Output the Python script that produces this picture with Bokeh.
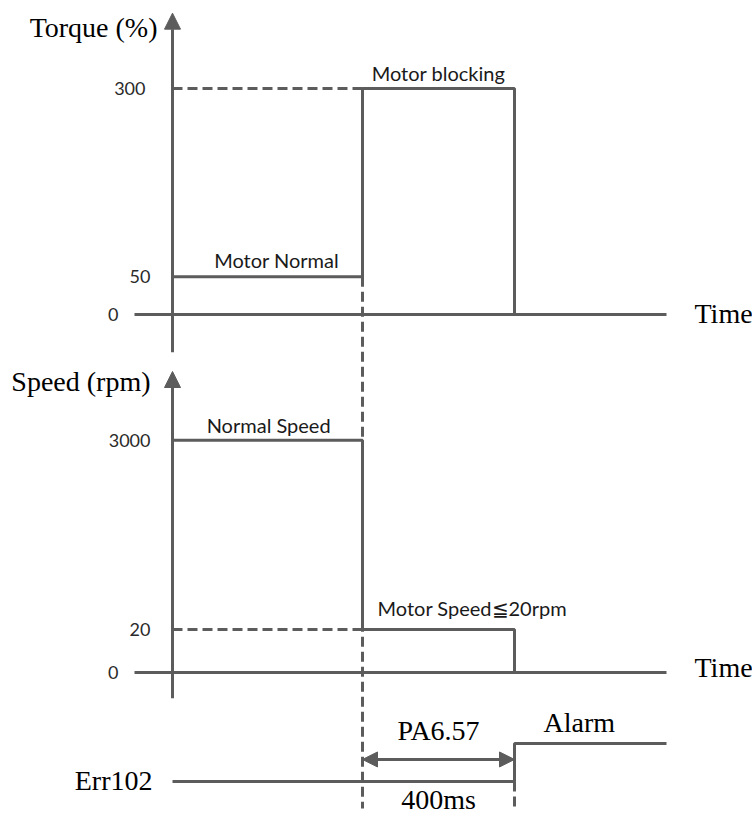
from bokeh.plotting import figure
from bokeh.models import Range1d, Arrow, NormalHead
from bokeh.core.properties import value
from bokeh.embed import file_html
from bokeh.resources import INLINE

# ---------------- data ----------------
time_ms = [0, 500, 500, 900, 900]          # motor blocks at 500 ms, alarm 400 ms later
torque_pct = [50, 50, 300, 300, 0]
speed_rpm = [3000, 3000, 20, 20, 0]
alarm_t = [0, 900, 900, 1300]
alarm_state = [0, 0, 1, 1]                  # 0 = Err102 low, 1 = Alarm
torque_ticks = [300, 50]
torque_tick_labels = ["300", "50"]
speed_ticks = [3000, 20]
speed_tick_labels = ["3000", "20"]
block_t = 500
alarm_at = 900
time_axis = [-100, 1300]
torque_axis = [-50, 400]
speed_axis = [-0.6, 7.0]     # display units (broken axis)

W, H = 752, 814
KX = 0.38            # px per ms
X0 = 172             # px of t=0 from left

def speed_disp(v):
    # schematic broken axis: linear up to 20 rpm, compressed above
    return v / 20.0 if v <= 20 else 1 + (v - 20) / 2980.0 * 4.4

def rng(origin_px, ppu):
    return Range1d(-origin_px / ppu, (H - origin_px) / ppu)

TQ = (500, 226 / 300.0)
SP = (142, 43.0)
AL = (33, 38.0)

def conv(v, a, b):
    # convert value from range a to range b (same frame)
    px = a[0] + v * a[1]
    return (px - b[0]) / b[1]

p = figure(width=W, height=H, output_backend="svg", toolbar_location=None,
           x_range=Range1d(-X0 / KX, (W - X0) / KX), y_range=rng(*AL),
           min_border=0, outline_line_color=None)
p.extra_y_ranges = {"tq": rng(*TQ), "sp": rng(*SP)}
p.axis.visible = False
p.grid.visible = False
p.background_fill_color = "white"

LC = "#5c5c5c"
LW = 3
DASH = "10 5"
SANS = value("Lato")
SERIF = value("Liberation Serif")
TICK_SIZE = "18px"
SANS_SIZE = "20px"
SERIF_SIZE = "28px"
TXT = "#1a1a1a"
TICK_C = "#2a2a2a"

# ---------- torque panel ----------
p.add_layout(Arrow(end=NormalHead(size=16, fill_color=LC, line_color=LC),
                   x_start=0, y_start=torque_axis[0], x_end=0, y_end=torque_axis[1],
                   line_color=LC, line_width=LW, y_range_name="tq"))
p.line(time_axis, [0, 0], y_range_name="tq", line_color=LC, line_width=LW)
p.line([0, block_t], [torque_pct[2], torque_pct[2]], y_range_name="tq",
       line_color=LC, line_width=LW, line_dash=DASH)
p.line(time_ms, torque_pct, y_range_name="tq", line_color=LC, line_width=LW)
p.text([0] * 2, torque_ticks, text=torque_tick_labels, y_range_name="tq",
       x_offset=[-27, -22], text_align="right", text_baseline="middle",
       text_font=SANS, text_font_size=TICK_SIZE, text_color=TICK_C)
p.text([time_axis[0]], [0], text=["0"], y_range_name="tq", x_offset=-16,
       text_align="right", text_baseline="middle",
       text_font=SANS, text_font_size=TICK_SIZE, text_color=TICK_C)
p.text([0], [torque_axis[1]], text=["Torque (%)"], y_range_name="tq",
       x_offset=-15, y_offset=14, text_align="right", text_baseline="middle",
       text_font=SERIF, text_font_size=SERIF_SIZE, text_color="black")
p.text([time_axis[1]], [0], text=["Time"], y_range_name="tq",
       x_offset=28, y_offset=-1, text_align="left", text_baseline="middle",
       text_font=SERIF, text_font_size=SERIF_SIZE, text_color="black")
p.text([274], [torque_pct[0]], text=["Motor Normal"], y_range_name="tq",
       y_offset=-17, text_align="center", text_baseline="middle",
       text_font=SANS, text_font_size=SANS_SIZE, text_color=TXT)
p.text([(block_t + alarm_at) / 2], [torque_pct[2]], text=["Motor blocking"], y_range_name="tq",
       y_offset=-16, text_align="center", text_baseline="middle",
       text_font=SANS, text_font_size=SANS_SIZE, text_color=TXT)

# ---------- speed panel ----------
sp_disp = [speed_disp(v) for v in speed_rpm]
p.add_layout(Arrow(end=NormalHead(size=16, fill_color=LC, line_color=LC),
                   x_start=0, y_start=speed_axis[0], x_end=0, y_end=speed_axis[1],
                   line_color=LC, line_width=LW, y_range_name="sp"))
p.line(time_axis, [0, 0], y_range_name="sp", line_color=LC, line_width=LW)
p.line([0, block_t], [speed_disp(20), speed_disp(20)], y_range_name="sp",
       line_color=LC, line_width=LW, line_dash=DASH)
p.line(time_ms, sp_disp, y_range_name="sp", line_color=LC, line_width=LW)
p.text([0] * 2, [speed_disp(v) for v in speed_ticks], text=speed_tick_labels, y_range_name="sp",
       x_offset=-22, text_align="right", text_baseline="middle",
       text_font=SANS, text_font_size=TICK_SIZE, text_color=TICK_C)
p.text([time_axis[0]], [0], text=["0"], y_range_name="sp", x_offset=-16,
       text_align="right", text_baseline="middle",
       text_font=SANS, text_font_size=TICK_SIZE, text_color=TICK_C)
p.text([0], [speed_axis[1]], text=["Speed (rpm)"], y_range_name="sp",
       x_offset=-22, y_offset=10, text_align="right", text_baseline="middle",
       text_font=SERIF, text_font_size=SERIF_SIZE, text_color="black")
p.text([time_axis[1]], [0], text=["Time"], y_range_name="sp",
       x_offset=28, y_offset=-5, text_align="left", text_baseline="middle",
       text_font=SERIF, text_font_size=SERIF_SIZE, text_color="black")
p.text([253], [sp_disp[0]], text=["Normal Speed"], y_range_name="sp",
       y_offset=-15, text_align="center", text_baseline="middle",
       text_font=SANS, text_font_size=SANS_SIZE, text_color=TXT)
p.text([block_t], [sp_disp[2]], text=["Motor Speed≦20rpm"], y_range_name="sp",
       x_offset=15, y_offset=-22, text_align="left", text_baseline="middle",
       text_font=SANS, text_font_size=SANS_SIZE, text_color=TXT)

# ---------- alarm panel ----------
p.line(alarm_t, alarm_state, line_color=LC, line_width=LW)
# vertical dashed markers
p.line([block_t, block_t], [conv(torque_pct[0], TQ, AL), -0.71],
       line_color=LC, line_width=LW, line_dash=DASH)
p.line([alarm_at, alarm_at], [0, -0.71], line_color=LC, line_width=LW, line_dash=DASH)
p.add_layout(Arrow(start=NormalHead(size=15, fill_color=LC, line_color=LC),
                   end=NormalHead(size=15, fill_color=LC, line_color=LC),
                   x_start=block_t, x_end=alarm_at, y_start=0.58, y_end=0.58,
                   line_color=LC, line_width=LW))
p.text([0], [0], text=["Err102"], x_offset=-20, y_offset=-1,
       text_align="right", text_baseline="middle",
       text_font=SERIF, text_font_size=SERIF_SIZE, text_color="black")
p.text([alarm_at], [1], text=["Alarm"], x_offset=29, y_offset=-21,
       text_align="left", text_baseline="middle",
       text_font=SERIF, text_font_size=SERIF_SIZE, text_color="black")
p.text([(block_t + alarm_at) / 2], [0.58], text=["PA6.57"], y_offset=-29,
       text_align="center", text_baseline="middle",
       text_font=SERIF, text_font_size=SERIF_SIZE, text_color="black")
p.text([(block_t + alarm_at) / 2], [0], text=["400ms"], y_offset=18,
       text_align="center", text_baseline="middle",
       text_font=SERIF, text_font_size=SERIF_SIZE, text_color="black")

open("out.html", "w").write(file_html(p, INLINE))
